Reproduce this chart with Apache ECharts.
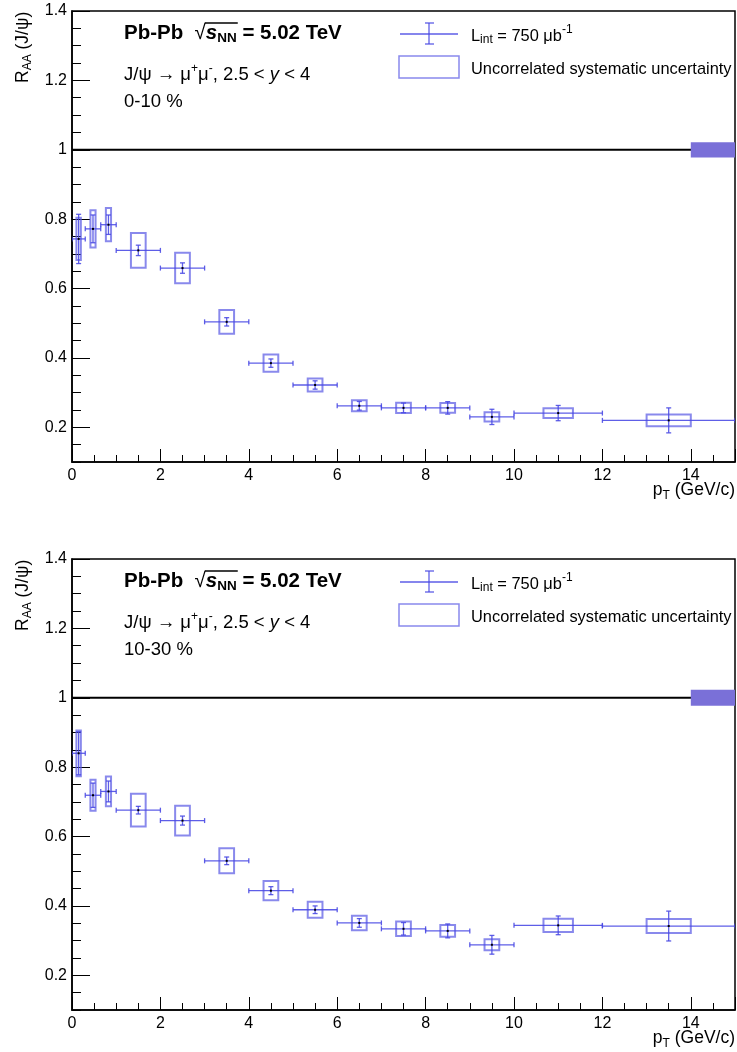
<!DOCTYPE html>
<html><head><meta charset="utf-8">
<script src="https://cdn.jsdelivr.net/npm/echarts@6/dist/echarts.min.js"></script>
<style>html,body{margin:0;padding:0;background:#fff}#c{width:737px;height:1052px}</style>
</head><body><div id="c"></div>
<script>
// ---------------- data ----------------
const ptLow  = [0, 0.3, 0.65, 1, 2, 3, 4, 5, 6, 7, 8, 9, 10, 12];
const ptHigh = [0.3, 0.65, 1, 2, 3, 4, 5, 6, 7, 8, 9, 10, 12, 15];

const raa_0_10  = [0.743, 0.772, 0.784, 0.710, 0.659, 0.504, 0.385, 0.322, 0.262, 0.256, 0.256, 0.230, 0.241, 0.220];
const stat_0_10 = [0.071, 0.040, 0.028, 0.015, 0.015, 0.012, 0.012, 0.012, 0.0125, 0.014, 0.018, 0.022, 0.022, 0.036];
const syst_0_10 = [0.061, 0.054, 0.048, 0.050, 0.044, 0.034, 0.025, 0.019, 0.016, 0.015, 0.014, 0.0135, 0.014, 0.017];
const glob_0_10 = 0.022;

const raa_10_30  = [0.840, 0.719, 0.730, 0.676, 0.646, 0.530, 0.444, 0.389, 0.351, 0.334, 0.328, 0.288, 0.344, 0.342];
const stat_10_30 = [0.062, 0.035, 0.030, 0.011, 0.013, 0.011, 0.0115, 0.011, 0.0125, 0.018, 0.020, 0.027, 0.027, 0.043];
const syst_10_30 = [0.066, 0.045, 0.043, 0.047, 0.043, 0.036, 0.028, 0.023, 0.021, 0.021, 0.017, 0.016, 0.019, 0.020];
const glob_10_30 = 0.023;

const yMajorTicks = [0.2, 0.4, 0.6, 0.8, 1.0, 1.2, 1.4];
const centralities = ['0-10 %', '10-30 %'];
const energyLabel = '5.02 TeV';
const lumiLabel = '750 μb';

// ---------------- style ----------------
const FF = '"Liberation Sans", Arial, Helvetica, sans-serif';
const ERR = 'rgba(72,72,228,0.88)';
const BOX = 'rgba(92,92,228,0.72)';
const GLOB = '#7a70d8';
const PANEL_DY = 548;

const panels = [
  {raa: raa_0_10, stat: stat_0_10, syst: syst_0_10, glob: glob_0_10, cent: centralities[0]},
  {raa: raa_10_30, stat: stat_10_30, syst: syst_10_30, glob: glob_10_30, cent: centralities[1]}
];

const mctx = document.createElement('canvas').getContext('2d');
function fontStr(p){ return (p.it?'italic ':'') + (p.b?'bold ':'') + p.s + 'px ' + FF; }
function textRun(parts, o){
  let x = 0; const children = []; const olSpans = [];
  for (const p of parts){
    const f = fontStr(p);
    mctx.font = f;
    const w = mctx.measureText(p.t).width;
    children.push({type:'text', x: x, y: (p.dy||0), style:{text:p.t, font:f, fill:'#000',
      textAlign:'left', textVerticalAlign:'middle', align:'left', verticalAlign:'middle'}});
    if (p.ol) olSpans.push([x, x + w]);
    x += w;
  }
  if (olSpans.length){
    const a = olSpans[0][0], b = olSpans[olSpans.length-1][1];
    children.push({type:'line', shape:{x1:a-1, y1:o.olY, x2:b+1, y2:o.olY}, style:{stroke:'#000', lineWidth:1.3}});
  }
  const sx = o.sx || 1;
  let gx = o.x;
  if (o.align === 'right') gx = o.x - x*sx;
  return {type:'group', x: gx, y: o.y, scaleX: sx, scaleY: o.sy || 1, rotation: o.rot || 0, children: children};
}

function renderPts(params, api){
  const x = api.value(0), y = api.value(1), xl = api.value(2), xh = api.value(3), st = api.value(4), sy = api.value(5);
  const bw = (xh - xl) / 6;
  const p1 = api.coord([x - bw, y + sy]), p2 = api.coord([x + bw, y - sy]);
  const l = api.coord([xl, y]), r = api.coord([xh, y]);
  const t = api.coord([x, y + st]), b = api.coord([x, y - st]);
  const c = api.coord([x, y]);
  const ls = {stroke: ERR, lineWidth: 1.3};
  return {type:'group', children:[
    {type:'rect', shape:{x:p1[0], y:p1[1], width:p2[0]-p1[0], height:p2[1]-p1[1]}, style:{fill:'none', stroke:BOX, lineWidth:2}},
    {type:'line', shape:{x1:l[0], y1:l[1], x2:r[0], y2:r[1]}, style:ls},
    {type:'line', shape:{x1:l[0], y1:l[1]-2.5, x2:l[0], y2:l[1]+2.5}, style:ls},
    {type:'line', shape:{x1:r[0], y1:r[1]-2.5, x2:r[0], y2:r[1]+2.5}, style:ls},
    {type:'line', shape:{x1:t[0], y1:t[1], x2:b[0], y2:b[1]}, style:ls},
    {type:'line', shape:{x1:t[0]-2.5, y1:t[1], x2:t[0]+2.5, y2:t[1]}, style:ls},
    {type:'line', shape:{x1:b[0]-2.5, y1:b[1], x2:b[0]+2.5, y2:b[1]}, style:ls},
    {type:'rect', shape:{x:c[0]-1, y:c[1]-1, width:2, height:2}, style:{fill:'#000'}}
  ]};
}
function renderGlob(params, api){
  const p1 = api.coord([api.value(0), api.value(2) + api.value(3)]);
  const p2 = api.coord([api.value(1), api.value(2) - api.value(3)]);
  return {type:'rect', shape:{x:p1[0], y:p1[1], width:p2[0]-p1[0], height:p2[1]-p1[1]}, style:{fill:GLOB}};
}

const grid = [], xAxis = [], yAxis = [], series = [], graphic = [];
panels.forEach((P, i) => {
  const top = 11 + PANEL_DY * i;
  grid.push({left:72, right:2, top: top, height: 451, show:true, borderColor:'#000', borderWidth:1.5, backgroundColor:'rgba(0,0,0,0)'});
  xAxis.push({type:'value', gridIndex:i, min:0, max:15, interval:2, position:'bottom', offset:0,
    axisLine:{onZero:false, lineStyle:{color:'#000', width:1.5}},
    axisTick:{inside:true, length:13, lineStyle:{color:'#000', width:1}},
    minorTick:{show:true, splitNumber:4, length:7, lineStyle:{color:'#000', width:1}},
    axisLabel:{fontSize:16, color:'#000', fontFamily:FF, margin:6, showMaxLabel:false},
    splitLine:{show:false}, minorSplitLine:{show:false}});
  yAxis.push({type:'value', gridIndex:i, min:0.1, max:1.4, interval:0.05, position:'left', offset:0,
    axisLine:{onZero:false, lineStyle:{color:'#000', width:1.5}},
    axisTick:{inside:true, length:9, lineStyle:{color:'#000', width:1}},
    axisLabel:{fontSize:16, color:'#000', fontFamily:FF, margin:5,
      formatter: v => (Math.round(v*20) % 4 === 0 ? String(+v.toFixed(1)) : '')},
    splitLine:{show:false}});
  yAxis.push({type:'value', gridIndex:i, min:0.1, max:1.4, interval:0.05, position:'left', offset:0,
    axisLine:{show:false, onZero:false}, axisLabel:{show:false}, splitLine:{show:false},
    axisTick:{inside:true, length:18, customValues: yMajorTicks, lineStyle:{color:'#000', width:1}}});

  const pts = ptLow.map((lo, k) => [(lo + ptHigh[k]) / 2, P.raa[k], lo, ptHigh[k], P.stat[k], P.syst[k]]);
  series.push({type:'line', xAxisIndex:i, yAxisIndex:2*i, data:[[0,1],[15,1]], symbol:'none', silent:true,
    lineStyle:{color:'#000', width:2}, z:2});
  series.push({type:'custom', xAxisIndex:i, yAxisIndex:2*i, data:[[14, 15, 1, P.glob]], renderItem: renderGlob, z:3, silent:true});
  series.push({type:'custom', xAxisIndex:i, yAxisIndex:2*i, data: pts, encode:{x:0, y:1}, renderItem: renderPts, z:4, silent:true, clip:true});

  const dy = PANEL_DY * i;
  graphic.push(textRun([
    {t:'Pb-Pb  ', s:20.5, b:1},
    {t:'√', s:20.5},
    {t:'s', s:20.5, b:1, it:1, ol:1},
    {t:'NN', s:13.5, b:1, dy:5, ol:1},
    {t:' = ' + energyLabel, s:20.5, b:1}
  ], {x:124, y:33 + dy, olY:-10}));
  graphic.push(textRun([
    {t:'J/ψ → μ', s:18.5},
    {t:'+', s:12, dy:-6},
    {t:'μ', s:18.5},
    {t:'-', s:12, dy:-6},
    {t:', 2.5 < ', s:18.5},
    {t:'y', s:18.5, it:1},
    {t:' < 4', s:18.5}
  ], {x:124, y:75 + dy}));
  graphic.push(textRun([{t:P.cent, s:18.5}], {x:124, y:102 + dy}));

  // legend
  graphic.push({type:'group', x:0, y:dy, children:[
    {type:'line', shape:{x1:400, y1:34, x2:458, y2:34}, style:{stroke:ERR, lineWidth:1.3}},
    {type:'line', shape:{x1:429, y1:23, x2:429, y2:44}, style:{stroke:ERR, lineWidth:1.3}},
    {type:'line', shape:{x1:425, y1:23, x2:434, y2:23}, style:{stroke:ERR, lineWidth:1.3}},
    {type:'line', shape:{x1:425, y1:44, x2:434, y2:44}, style:{stroke:ERR, lineWidth:1.3}},
    {type:'rect', shape:{x:399, y:56, width:60, height:22}, style:{fill:'none', stroke:BOX, lineWidth:1.5}}
  ]});
  graphic.push(textRun([
    {t:'L', s:16.4}, {t:'int', s:12, dy:4}, {t:' = ' + lumiLabel, s:16.4}, {t:'-1', s:12, dy:-6}
  ], {x:471, y:36 + dy}));
  graphic.push(textRun([{t:'Uncorrelated systematic uncertainty', s:16.4}], {x:471, y:69 + dy}));

  // axis titles
  graphic.push(textRun([{t:'p', s:17.5}, {t:'T', s:12, dy:6}, {t:' (GeV/c)', s:17.5}], {x:735, y:490 + dy, align:'right'}));
  graphic.push(textRun([{t:'R', s:17.5}, {t:'AA', s:12, dy:5}, {t:' (J/ψ)', s:17.5}], {x:23, y:83 + dy, rot:Math.PI/2}));
});

const chart = echarts.init(document.getElementById('c'), null, {renderer:'canvas'});
chart.setOption({animation:false, backgroundColor:'#fff', grid, xAxis, yAxis, series, graphic});
</script>
</body></html>
